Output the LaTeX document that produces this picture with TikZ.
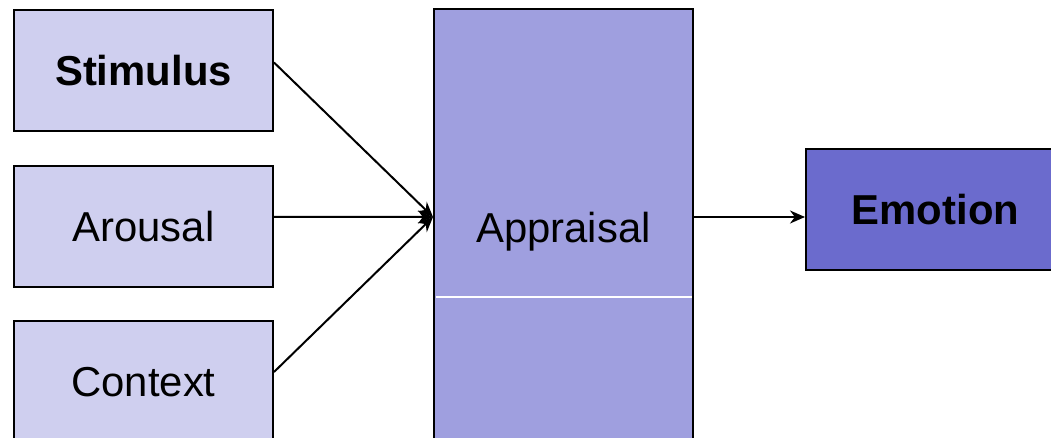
\documentclass[tikz,border=0pt]{standalone}
\usepackage{fontspec}
\setmainfont{Liberation Sans}
\usetikzlibrary{positioning,arrows.meta}
\definecolor{inlight}{RGB}{207,207,239}
\definecolor{apmid}{RGB}{159,159,223}
\definecolor{emdark}{RGB}{107,107,205}
\tikzset{label text/.style={inner sep=0pt,text height=30bp,text depth=0pt,font=\fontsize{42}{50}\selectfont}}
\tikzset{inbox/.style={label text,draw,line width=2bp,fill=inlight,minimum width=259bp,minimum height=121bp}}
\tikzset{apbox/.style={label text,draw,line width=2bp,fill=apmid,minimum width=259bp,minimum height=436bp}}
\tikzset{embox/.style={label text,draw,line width=2bp,fill=emdark,minimum width=259bp,minimum height=121bp,font=\fontsize{42}{50}\selectfont\bfseries}}
\tikzset{flow/.style={-{Stealth[length=15bp,width=13bp]},line width=2bp}}

\begin{document}
\begin{tikzpicture}[x=1bp,y=-1bp]

	%% Frame
	\useasboundingbox (0,0) rectangle (1051,438);
	%%

	\node[inbox] (stim) at (143.5,70.5) {\bfseries Stimulus};
	\node[inbox] (arou) at (143.5,226.5) {Arousal};
	\node[inbox] (cont) at (143.5,381.5) {Context};
	\node[apbox] (appr) at (563.5,227.5) {Appraisal};
	\node[embox] (emot) at (935.5,209.5) {Emotion};
	\draw[white,line width=1.2bp] (435.5,297) -- (691.5,297);

	\coordinate (hub) at (appr.west |- 0,217);
	\draw[flow] ([yshift=8bp]stim.east) -- (hub);
	\draw[flow] ([yshift=9.5bp]arou.east) -- (hub);
	\draw[flow] ([yshift=9.5bp]cont.east) -- (hub);
	\draw[flow] (appr.east |- hub) -- (emot.west |- hub);

\end{tikzpicture}
\end{document}
